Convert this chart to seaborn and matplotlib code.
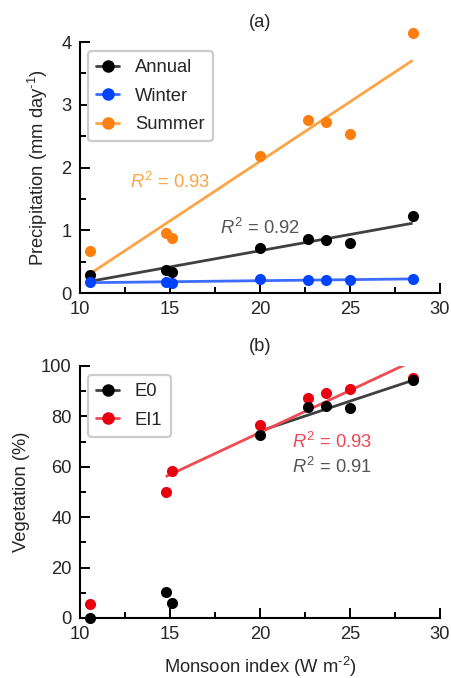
import numpy as np
import pandas as pd
import matplotlib
matplotlib.use("Agg")
import matplotlib.pyplot as plt
from matplotlib.lines import Line2D
from matplotlib.ticker import MultipleLocator
import seaborn as sns

# ---- data -------------------------------------------------------------
monsoon = [10.55, 14.76, 15.13, 20.0, 22.68, 23.67, 25.0, 28.48]

precip_annual = [0.29, 0.36, 0.33, 0.71, 0.855, 0.84, 0.79, 1.23]
precip_winter = [0.17, 0.18, 0.16, 0.22, 0.21, 0.20, 0.20, 0.23]
precip_summer = [0.67, 0.96, 0.87, 2.19, 2.76, 2.72, 2.53, 4.14]

veg_e0 = [0.0, 10.3, 6.0, 72.5, 83.7, 84.1, 83.3, 94.4]
veg_ei1 = [5.4, 49.9, 58.4, 76.6, 87.2, 89.2, 91.0, 95.4]

# lower bound of the monsoon index used for each vegetation fit
e0_fit_from = 20.0
ei1_fit_from = 14.0

r2_labels_a = {"Summer": "0.93", "Annual": "0.92"}
r2_labels_b = {"EI1": "0.93", "E0": "0.91"}

# ---- style ------------------------------------------------------------
sns.set_style("ticks")
plt.rcParams["font.family"] = ["Liberation Sans", "DejaVu Sans"]
plt.rcParams["mathtext.fontset"] = "custom"
plt.rcParams["mathtext.rm"] = "Liberation Sans"
plt.rcParams["mathtext.it"] = "Liberation Sans:italic"

FS = 13.2
plt.rcParams["font.size"] = FS
MS = 64  # scatter marker area
LW = 2.0

colors = {
    "Annual": ("#000000", "#404040"),
    "Winter": ("#0044ff", "#3d6dff"),
    "Summer": ("#ff7f0e", "#ffa347"),
    "E0": ("#000000", "#404040"),
    "EI1": ("#e8000f", "#f04a52"),
}
text_colors = {"Summer": "#ffa347", "Annual": "#555555",
               "EI1": "#f04555", "E0": "#555555"}

fig = plt.figure(figsize=(4.51, 6.78), dpi=100)
ax_a = fig.add_axes([80 / 451, 1 - 293 / 678, 360 / 451, 251 / 678])
ax_b = fig.add_axes([80 / 451, 1 - 618 / 678, 360 / 451, 252 / 678])


def style_axes(ax, ymax, ymajor, yminor):
    ax.set_xlim(10, 30)
    ax.set_ylim(0, ymax)
    ax.xaxis.set_major_locator(MultipleLocator(5))
    ax.xaxis.set_minor_locator(MultipleLocator(2.5))
    ax.yaxis.set_major_locator(MultipleLocator(ymajor))
    ax.yaxis.set_minor_locator(MultipleLocator(yminor))
    ax.tick_params(which="major", direction="in", length=7, width=1.4,
                   labelsize=FS, pad=6, color="black")
    ax.tick_params(which="minor", direction="in", length=4, width=1.4,
                   color="black")
    sns.despine(ax=ax)
    for side in ("left", "bottom"):
        ax.spines[side].set_linewidth(1.5)
        ax.spines[side].set_color("black")


def legend_handle(name):
    mc, lc = colors[name]
    return Line2D([], [], color=lc, lw=LW, marker="o", markersize=8,
                  markerfacecolor=mc, markeredgecolor=mc)


def add_legend(ax, names):
    leg = ax.legend([legend_handle(n) for n in names], names,
                    loc="upper left", bbox_to_anchor=(8 / 360, 1 - 9 / 251),
                    borderaxespad=0, fontsize=FS, frameon=True,
                    fancybox=True, handlelength=1.25, handletextpad=0.85,
                    labelspacing=0.62, borderpad=0.45)
    frame = leg.get_frame()
    frame.set_edgecolor("#cccccc")
    frame.set_linewidth(1.6)
    frame.set_alpha(1)
    return leg


# ---- panel (a): precipitation ----------------------------------------
precip = pd.DataFrame({"monsoon": monsoon, "Annual": precip_annual,
                       "Winter": precip_winter, "Summer": precip_summer})

for z, name in enumerate(["Summer", "Annual", "Winter"]):
    mc, lc = colors[name]
    sns.regplot(data=precip, x="monsoon", y=name, ax=ax_a, scatter=False,
                ci=None, truncate=True, color=lc,
                line_kws=dict(lw=LW, zorder=2 + z * 0.1,
                              solid_capstyle="butt"))
for z, name in enumerate(["Summer", "Annual", "Winter"]):
    mc, lc = colors[name]
    sns.scatterplot(data=precip, x="monsoon", y=name, ax=ax_a, color=mc,
                    s=MS, linewidth=0, clip_on=False, zorder=3 + z * 0.1)

style_axes(ax_a, 4, 1, 0.5)
ax_a.set_xlabel("")
ax_a.set_ylabel(r"Precipitation (mm day$^{\text{-}1}$)", fontsize=FS,
                labelpad=8)
ax_a.set_title("(a)", fontsize=FS, pad=11)
add_legend(ax_a, ["Annual", "Winter", "Summer"])

ax_a.text(12.75, 1.77, r"$R^2$ = " + r2_labels_a["Summer"],
          color=text_colors["Summer"], fontsize=FS, va="center", ha="left")
ax_a.text(17.75, 1.04, r"$R^2$ = " + r2_labels_a["Annual"],
          color=text_colors["Annual"], fontsize=FS, va="center", ha="left")

# ---- panel (b): vegetation -------------------------------------------
veg = pd.DataFrame({"monsoon": monsoon, "E0": veg_e0, "EI1": veg_ei1})

fit_e0 = veg[veg["monsoon"] >= e0_fit_from]
fit_ei1 = veg[veg["monsoon"] >= ei1_fit_from]

sns.regplot(data=fit_e0, x="monsoon", y="E0", ax=ax_b, scatter=False,
            ci=None, truncate=True, color=colors["E0"][1],
            line_kws=dict(lw=LW, zorder=2, solid_capstyle="butt"))
sns.regplot(data=fit_ei1, x="monsoon", y="EI1", ax=ax_b, scatter=False,
            ci=None, truncate=True, color=colors["EI1"][1],
            line_kws=dict(lw=LW, zorder=2.1, solid_capstyle="butt"))
sns.scatterplot(data=veg, x="monsoon", y="EI1", ax=ax_b,
                color=colors["EI1"][0], s=MS, linewidth=0, clip_on=False,
                zorder=3)
sns.scatterplot(data=veg, x="monsoon", y="E0", ax=ax_b,
                color=colors["E0"][0], s=MS, linewidth=0, clip_on=False,
                zorder=3.1)

style_axes(ax_b, 100, 20, 10)
ax_b.set_xlabel(r"Monsoon index (W m$^{\text{-}2}$)", fontsize=FS,
                labelpad=8)
ax_b.set_ylabel("Vegetation (%)", fontsize=FS, labelpad=8)
ax_b.set_title("(b)", fontsize=FS, pad=11)
add_legend(ax_b, ["E0", "EI1"])

ax_b.text(21.75, 69.8, r"$R^2$ = " + r2_labels_b["EI1"],
          color=text_colors["EI1"], fontsize=FS, va="center", ha="left")
ax_b.text(21.75, 60.0, r"$R^2$ = " + r2_labels_b["E0"],
          color=text_colors["E0"], fontsize=FS, va="center", ha="left")

fig.savefig("out.png", dpi=100)
